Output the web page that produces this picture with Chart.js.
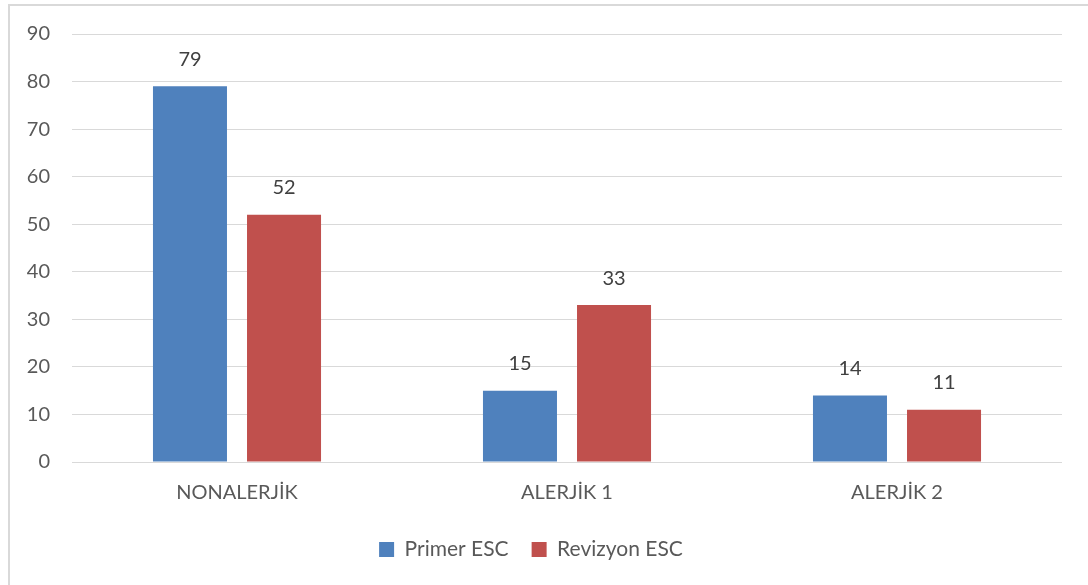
<!DOCTYPE html>
<html>
<head>
<meta charset="utf-8">
<script src="https://cdn.jsdelivr.net/npm/chart.js@4.4.0/dist/chart.umd.min.js"></script>
<style>
  html, body { margin: 0; padding: 0; background: #fff; }
  #frame { position: absolute; left: 8px; top: 4px; width: 1200px; height: 700px; border-left: 2px solid #d9d9d9; border-top: 2px solid #d9d9d9; }
  #wrap { position: absolute; left: 0; top: 0; width: 1088px; height: 585px; }
</style>
</head>
<body>
<div id="frame"></div>
<div id="wrap"><canvas id="bar-chart" width="1088" height="585"></canvas></div>
<script>
// Kategori dan nilai
const kategori = ['NONALERJİK', 'ALERJİK 1', 'ALERJİK 2'];
const primerESC = [79, 15, 14];
const revizyonESC = [52, 33, 11];
const yTicks = [0, 10, 20, 30, 40, 50, 60, 70, 80, 90];

const biru = '#4f81bd';
const merah = '#c0504d';
const teks = '#595959';
const garis = '#d9d9d9';
const huruf = 'Lato, "Open Sans", sans-serif';

var ctxBar = document.getElementById('bar-chart');

// Label nilai di atas bar
const labelNilai = {
    id: 'labelNilai',
    afterDatasetsDraw(chart) {
        const ctx = chart.ctx;
        ctx.save();
        ctx.font = '20px ' + huruf;
        ctx.fillStyle = '#404040';
        ctx.textAlign = 'center';
        ctx.textBaseline = 'middle';
        chart.data.datasets.forEach((ds, i) => {
            chart.getDatasetMeta(i).data.forEach((bar, j) => {
                ctx.fillText(ds.data[j], bar.x, bar.y - 27);
            });
        });
        ctx.restore();
    }
};

var barChart = new Chart(ctxBar, {
    type: 'bar',
    data: {
        labels: kategori,
        datasets: [{
                label: 'Primer ESC',
                data: primerESC,
                backgroundColor: biru
            },
            {
                label: 'Revizyon ESC',
                data: revizyonESC,
                backgroundColor: merah
            }
        ]
    },
    options: {
        responsive: false,
        animation: false,
        devicePixelRatio: 1,
        categoryPercentage: 0.57,
        barPercentage: 0.787,
        layout: {
            padding: { top: 34, right: 26, left: 0, bottom: 15 }
        },
        scales: {
            y: {
                min: 0,
                max: 90,
                afterBuildTicks: (scale) => {
                    scale.ticks = yTicks.map(v => ({ value: v }));
                },
                afterFit: (scale) => { scale.width = 72; },
                grid: { color: garis, lineWidth: 1, drawTicks: false },
                border: { display: false },
                ticks: {
                    color: teks,
                    padding: 22,
                    font: { family: huruf, size: 20 }
                }
            },
            x: {
                grid: { display: false },
                border: { display: false },
                ticks: {
                    color: teks,
                    padding: 11,
                    font: { family: huruf, size: 20 }
                }
            }
        },
        plugins: {
            legend: {
                position: 'bottom',
                labels: {
                    color: teks,
                    boxWidth: 15,
                    boxHeight: 15,
                    padding: 23,
                    font: { family: huruf, size: 21 }
                }
            },
            tooltip: { enabled: false }
        }
    },
    plugins: [labelNilai]
});
</script>
</body>
</html>
